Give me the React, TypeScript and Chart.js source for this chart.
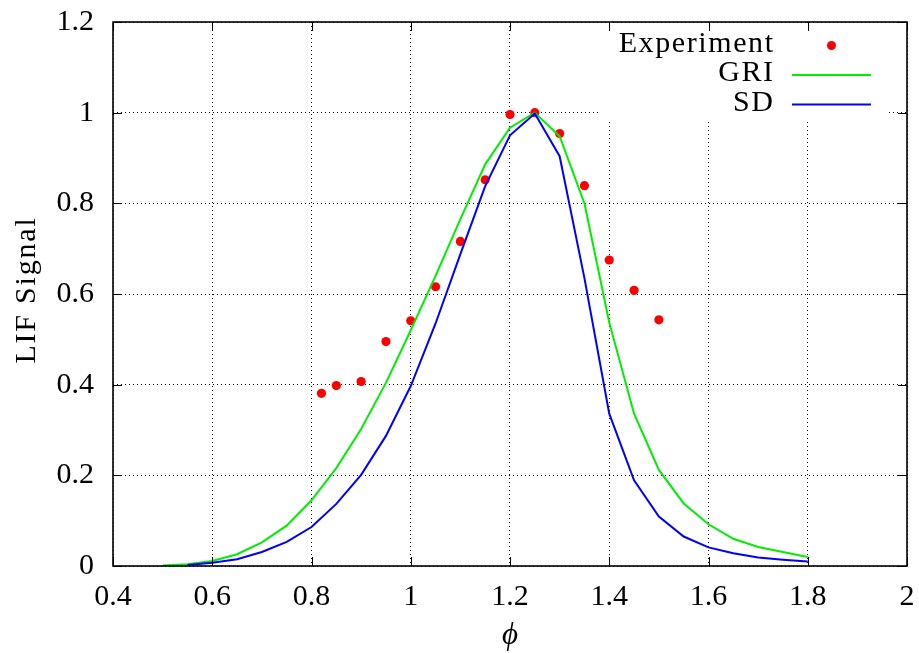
import React, { useEffect, useRef } from 'react';
import { Chart, registerables } from 'chart.js';

Chart.register(...registerables);

// Experiment (red points)
const expPhi = [0.82, 0.85, 0.9, 0.95, 1.0, 1.05, 1.1, 1.15, 1.2, 1.25, 1.3, 1.35, 1.4, 1.45, 1.5];
const expSignal = [0.381, 0.398, 0.407, 0.495, 0.541, 0.616, 0.716, 0.852, 0.996, 1.0, 0.954, 0.839, 0.675, 0.608, 0.543];

// GRI model (green)
const griPhi = [0.5, 0.55, 0.6, 0.65, 0.7, 0.75, 0.8, 0.85, 0.9, 0.95, 1.0, 1.05, 1.1, 1.15, 1.2, 1.25, 1.3, 1.35, 1.4, 1.45, 1.5, 1.55, 1.6, 1.65, 1.7, 1.75, 1.8];
const griSignal = [0.001, 0.004, 0.011, 0.026, 0.052, 0.089, 0.145, 0.216, 0.302, 0.404, 0.52, 0.64, 0.765, 0.886, 0.967, 1.0, 0.948, 0.8, 0.537, 0.336, 0.212, 0.138, 0.092, 0.06, 0.042, 0.031, 0.02];

// SD model (blue)
const sdPhi = [0.55, 0.6, 0.65, 0.7, 0.75, 0.8, 0.85, 0.9, 0.95, 1.0, 1.05, 1.1, 1.15, 1.2, 1.25, 1.3, 1.35, 1.4, 1.45, 1.5, 1.55, 1.6, 1.65, 1.7, 1.75, 1.8];
const sdSignal = [0.002, 0.007, 0.015, 0.031, 0.053, 0.086, 0.137, 0.201, 0.287, 0.397, 0.535, 0.688, 0.838, 0.95, 0.998, 0.904, 0.635, 0.336, 0.189, 0.109, 0.065, 0.041, 0.028, 0.019, 0.014, 0.01];

const seriesNames = ['Experiment', 'GRI', 'SD'];
const xTitle = '\u03D5';
const yTitle = 'LIF Signal';
const xTicks = [0.4, 0.6, 0.8, 1.0, 1.2, 1.4, 1.6, 1.8, 2.0];
const yTicks = [0, 0.2, 0.4, 0.6, 0.8, 1.0, 1.2];

const RED = '#ff0000';
const GREEN = '#00ee00';
const BLUE = '#0000ff';
const SERIF = '"Liberation Serif", "Times New Roman", serif';

const fmt = (v: number) => String(Number(v.toFixed(1)));

const gnuplotFrame = {
  id: 'gnuplotFrame',
  beforeDatasetsDraw(chart: any) {
    const { ctx, chartArea: a } = chart;
    // opaque key box
    ctx.save();
    ctx.fillStyle = '#ffffff';
    ctx.fillRect(a.right - 309, a.top + 1, 290, 97);
    ctx.restore();
  },
  afterDraw(chart: any) {
    const { ctx, chartArea: a, scales } = chart;
    const xs = scales.x;
    const ys = scales.y;
    ctx.save();
    // ticks (inward, mirrored)
    ctx.strokeStyle = '#000';
    ctx.lineWidth = 1;
    const tl = 9;
    ctx.beginPath();
    xTicks.forEach((v) => {
      const px = Math.round(xs.getPixelForValue(v)) + 0.5;
      ctx.moveTo(px, a.bottom);
      ctx.lineTo(px, a.bottom - tl);
      ctx.moveTo(px, a.top);
      ctx.lineTo(px, a.top + tl);
    });
    yTicks.forEach((v) => {
      const py = Math.round(ys.getPixelForValue(v)) + 0.5;
      ctx.moveTo(a.left, py);
      ctx.lineTo(a.left + tl, py);
      ctx.moveTo(a.right, py);
      ctx.lineTo(a.right - tl, py);
    });
    ctx.stroke();
    // border
    ctx.lineWidth = 1.6;
    ctx.strokeRect(a.left, a.top, a.right - a.left, a.bottom - a.top);

    // key
    const textRight = a.right - 134;
    const sx0 = a.right - 115;
    const sx1 = a.right - 36;
    const rowY = (i: number) => a.top + 23.5 + i * 29.5;
    ctx.fillStyle = '#000';
    ctx.font = `30px ${SERIF}`;
    (ctx as any).letterSpacing = '1.6px';
    ctx.textAlign = 'right';
    ctx.textBaseline = 'alphabetic';
    seriesNames.forEach((n, i) => {
      ctx.fillText(n, textRight + 1.6, rowY(i) + 6);
    });
    (ctx as any).letterSpacing = '0px';
    ctx.fillStyle = RED;
    ctx.beginPath();
    ctx.arc((sx0 + sx1) / 2, rowY(0), 4.5, 0, Math.PI * 2);
    ctx.fill();
    ctx.lineWidth = 2;
    ctx.strokeStyle = GREEN;
    ctx.beginPath();
    ctx.moveTo(sx0, rowY(1));
    ctx.lineTo(sx1, rowY(1));
    ctx.stroke();
    ctx.strokeStyle = BLUE;
    ctx.beginPath();
    ctx.moveTo(sx0, rowY(2));
    ctx.lineTo(sx1, rowY(2));
    ctx.stroke();

    // axis titles
    ctx.fillStyle = '#000';
    ctx.font = `italic 31px ${SERIF}`;
    ctx.textAlign = 'center';
    ctx.textBaseline = 'middle';
    ctx.fillText(xTitle, (a.left + a.right) / 2, 636);
    ctx.save();
    ctx.translate(35, 290);
    ctx.rotate(-Math.PI / 2);
    ctx.font = `30px ${SERIF}`;
    (ctx as any).letterSpacing = '1.8px';
    ctx.textBaseline = 'alphabetic';
    ctx.fillText(yTitle, 0, 0);
    ctx.restore();
    ctx.restore();
  },
};

export default function App() {
  const ref = useRef<HTMLCanvasElement>(null);
  useEffect(() => {
    if (!ref.current) return;
    const toPts = (xs: number[], ys: number[]) => xs.map((x, i) => ({ x, y: ys[i] }));
    const chart = new Chart(ref.current, {
      type: 'scatter',
      data: {
        datasets: [
          {
            label: seriesNames[0],
            data: toPts(expPhi, expSignal),
            showLine: false,
            pointRadius: 4.6,
            pointBackgroundColor: RED,
            pointBorderWidth: 0,
            order: 3,
          },
          {
            label: seriesNames[1],
            data: toPts(griPhi, griSignal),
            showLine: true,
            borderColor: GREEN,
            borderWidth: 2,
            pointRadius: 0,
            tension: 0,
            order: 2,
          },
          {
            label: seriesNames[2],
            data: toPts(sdPhi, sdSignal),
            showLine: true,
            borderColor: BLUE,
            borderWidth: 2,
            pointRadius: 0,
            tension: 0,
            order: 1,
          },
        ],
      },
      options: {
        responsive: false,
        animation: false,
        layout: { padding: { left: 0, right: 12, top: 22, bottom: 0 } },
        plugins: { legend: { display: false }, tooltip: { enabled: false } },
        scales: {
          x: {
            type: 'linear',
            min: 0.4,
            max: 2,
            afterFit: (s: any) => {
              s.height = 87;
              s.paddingLeft = 0;
              s.paddingRight = 0;
              s.paddingTop = 0;
              s.paddingBottom = 0;
            },
            afterBuildTicks: (s: any) => {
              s.ticks = xTicks.map((v) => ({ value: v }));
            },
            ticks: {
              callback: (v: any) => fmt(Number(v)),
              color: '#000',
              font: { family: SERIF, size: 30 },
              padding: 13,
              maxRotation: 0,
              autoSkip: false,
            },
            grid: {
              color: '#000',
              lineWidth: 1,
              drawTicks: false,
            },
            border: { display: false, dash: [1, 3] },
          },
          y: {
            type: 'linear',
            min: 0,
            max: 1.2,
            afterFit: (s: any) => {
              s.width = 113;
              s.paddingLeft = 0;
              s.paddingRight = 0;
              s.paddingTop = 0;
              s.paddingBottom = 0;
            },
            afterBuildTicks: (s: any) => {
              s.ticks = yTicks.map((v) => ({ value: v }));
            },
            ticks: {
              callback: (v: any) => fmt(Number(v)),
              color: '#000',
              font: { family: SERIF, size: 30 },
              padding: 19,
              autoSkip: false,
            },
            grid: {
              color: '#000',
              lineWidth: 1,
              drawTicks: false,
            },
            border: { display: false, dash: [1, 3] },
          },
        },
      },
      plugins: [gnuplotFrame],
    } as any);
    return () => chart.destroy();
  }, []);
  return (
    <div style={{ position: 'absolute', left: 0, top: 0, width: 919, height: 653, background: '#fff' }}>
      <canvas ref={ref} width={919} height={653} style={{ width: 919, height: 653 }} />
    </div>
  );
}
